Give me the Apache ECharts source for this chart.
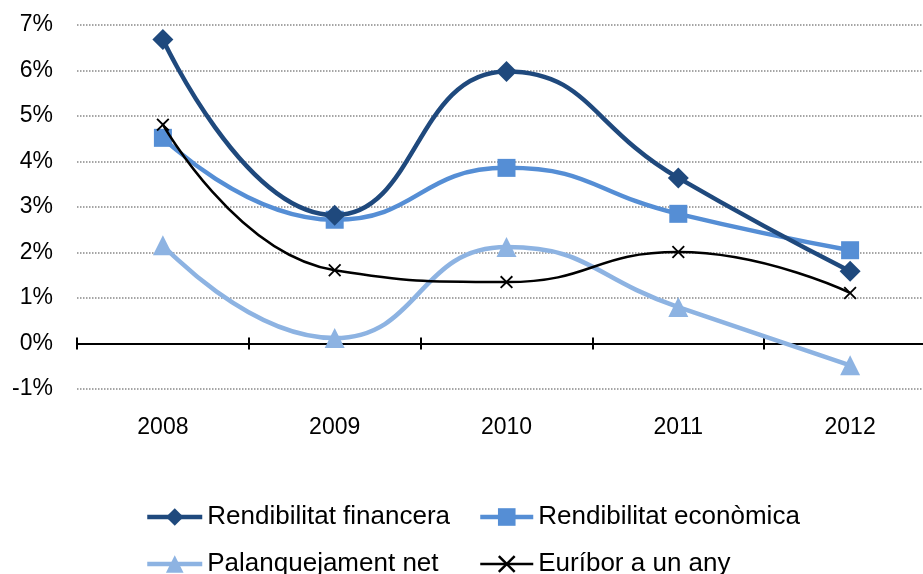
<!DOCTYPE html>
<html>
<head>
<meta charset="UTF-8">
<title>Rendibilitat</title>
<style>
    body{ margin:0; background:#ffffff; }
    #main{ width:923px; height:574px; }
</style>
<script src="https://cdn.jsdelivr.net/npm/echarts@6/dist/echarts.min.js"></script>
</head>
<body>
<div id="main"></div>
<script type="text/javascript">
    var years = ['2008', '2009', '2010', '2011', '2012'];
    var financera = [6.68, 2.82, 5.98, 3.64, 1.59];
    var economica = [4.52, 2.72, 3.86, 2.85, 2.05];
    var palanquejament = [2.16, 0.12, 2.12, 0.80, -0.48];
    var euribor = [4.81, 1.61, 1.35, 2.01, 1.11];

    var font = 'Liberation Sans, Arial, sans-serif';
    var crossPath = 'path://M0,1L1,0L5,4L9,0L10,1L6,5L10,9L9,10L5,6L1,10L0,9L4,5Z';

    var myChart = echarts.init(document.getElementById('main'));

    var legendText = { fontFamily: font, fontSize: 26, color: '#000', lineHeight: 30 };
    // zero line sits 7/8 of the way down the plot (min -1, max 7)
    var plotTop = 25, plotHeight = 364;
    var zeroOffset = plotHeight * 7 / 8;

    var option = {
        backgroundColor: '#ffffff',
        animation: false,
        grid: { left: 77, width: 859, top: plotTop, height: plotHeight, outerBoundsMode: 'none' },
        legend: [
            {
                orient: 'vertical', left: 145, top: 502, height: 200, padding: 0,
                itemWidth: 55, itemHeight: 22, itemGap: 17,
                textStyle: legendText,
                data: [
                    { name: 'Rendibilitat financera', lineStyle: { width: 4.5 } },
                    { name: 'Palanquejament net', lineStyle: { width: 4.5 } }
                ]
            },
            {
                orient: 'vertical', left: 478, top: 502, height: 200, padding: 0,
                itemWidth: 53, itemHeight: 22, itemGap: 17,
                textStyle: legendText,
                data: [
                    { name: 'Rendibilitat econòmica', lineStyle: { width: 4.5 } },
                    { name: 'Euríbor a un any', lineStyle: { width: 2.5 } }
                ]
            }
        ],
        xAxis: [
            {
                type: 'category', data: years,
                axisLine: { onZero: true, lineStyle: { color: '#000', width: 2 } },
                axisTick: { show: true, length: 6, lineStyle: { color: '#000', width: 2 } },
                axisLabel: { margin: 27, fontFamily: font, fontSize: 23, color: '#000' }
            },
            {
                type: 'category', data: years, position: 'top', offset: -zeroOffset,
                axisLine: { show: false, onZero: false },
                axisTick: { show: true, length: 6, lineStyle: { color: '#000', width: 2 } },
                axisLabel: { show: false }
            }
        ],
        yAxis: {
            type: 'value', min: -1, max: 7, interval: 1,
            axisLine: { show: false },
            axisTick: { show: false },
            axisLabel: {
                margin: 24, fontFamily: font, fontSize: 23, color: '#000',
                formatter: '{value}%'
            },
            splitLine: { lineStyle: { color: '#888', type: 'dotted', width: 1.5 } }
        },
        series: [
            {
                name: 'Rendibilitat financera', type: 'line', smooth: 0.5,
                data: financera,
                symbol: 'diamond', symbolSize: 21,
                lineStyle: { color: '#1F497D', width: 4.5 },
                itemStyle: { color: '#1F497D' },
                z: 4
            },
            {
                name: 'Rendibilitat econòmica', type: 'line', smooth: 0.5,
                data: economica,
                symbol: 'rect', symbolSize: 18,
                lineStyle: { color: '#558ED5', width: 4.5 },
                itemStyle: { color: '#558ED5' },
                z: 3
            },
            {
                name: 'Palanquejament net', type: 'line', smooth: 0.5,
                data: palanquejament,
                symbol: 'triangle', symbolSize: 20,
                lineStyle: { color: '#8DB3E2', width: 4.5 },
                itemStyle: { color: '#8DB3E2' },
                z: 2
            },
            {
                name: 'Euríbor a un any', type: 'line', smooth: 0.5,
                data: euribor,
                symbol: crossPath, symbolSize: 13,
                lineStyle: { color: '#000', width: 2.5 },
                itemStyle: { color: '#000' },
                z: 5
            }
        ]
    };
    myChart.setOption(option);
</script>
</body>
</html>
